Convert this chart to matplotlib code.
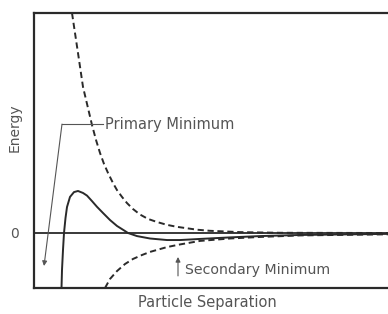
import matplotlib
matplotlib.use("Agg")
import matplotlib.pyplot as plt

# x: separation (arbitrary units), y: energy (arbitrary units)
rep_x = [3.8, 4.4, 4.9, 5.4, 5.8, 6.2, 6.6, 7.0, 7.4, 7.9, 8.3, 8.8, 9.3, 9.9, 10.6,
         11.4, 12.3, 13.3, 14.3, 16.3, 17.6, 20.6, 24.6, 35.4]
rep_y = [10.0, 8.18, 6.64, 5.68, 4.91, 4.23, 3.64, 3.14, 2.73, 2.27, 1.95, 1.64, 1.36,
         1.09, 0.84, 0.64, 0.5, 0.37, 0.28, 0.15, 0.1, 0.04, 0.01, 0.0]

att_x = [7.1, 7.6, 8.3, 9.1, 9.9, 10.8, 11.6, 13.3, 14.6, 16.6, 19.6, 22.6, 26.6, 35.4]
att_y = [-2.5, -2.09, -1.73, -1.41, -1.18, -1.0, -0.86, -0.64, -0.52, -0.36, -0.25,
         -0.18, -0.11, -0.06]

tot_x = [2.75, 2.8, 2.9, 3.0, 3.15, 3.3, 3.6, 4.0, 4.4, 4.9, 5.3, 5.8, 6.3, 6.9, 7.6,
         8.3, 9.1, 9.4, 10.3, 11.6, 13.3, 14.6, 16.6, 19.6, 22.6, 26.6, 35.4]
tot_y = [-2.5, -1.68, -0.77, 0.0, 0.68, 1.18, 1.64, 1.86, 1.91, 1.82, 1.70, 1.45, 1.19,
         0.91, 0.59, 0.32, 0.09, 0.0, -0.14, -0.25, -0.32, -0.32, -0.27, -0.2, -0.14,
         -0.09, -0.04]

xlim = (0, 35.4)
ylim = (-2.5, 10.0)

fig = plt.figure(figsize=(3.88, 3.14), dpi=100)
ax = fig.add_axes([34/388, 1-288/314, 1-34/388, (288-13)/314])
ax.set_xlim(*xlim)
ax.set_ylim(*ylim)

lc = "#2a2a2a"
tc = "#555555"
dash = (0, (3.2, 1.9))
ax.plot(rep_x, rep_y, color=lc, lw=1.4, ls=dash, dash_capstyle="butt")
ax.plot(att_x, att_y, color=lc, lw=1.4, ls=dash, dash_capstyle="butt")
ax.plot(tot_x, tot_y, color=lc, lw=1.4, solid_joinstyle="round")
ax.axhline(0, color=lc, lw=1.3)

for s in ["left", "bottom", "top"]:
    ax.spines[s].set_linewidth(1.6)
    ax.spines[s].set_color(lc)
ax.spines["right"].set_visible(False)

ax.set_xticks([])
ax.set_yticks([0])
ax.set_yticklabels(["0"], color=tc, fontsize=10)
ax.tick_params(axis="y", length=0, pad=11)

fig.text(15/388, 1-128/314, "Energy", color=tc, fontsize=10, rotation=90,
         ha="center", va="center")
fig.text(207/388, 1-302/314, "Particle Separation", color=tc, fontsize=10.5,
         ha="center", va="center")

# Primary minimum annotation
ac = "#555555"
ax.plot([2.8, 6.9], [4.95, 4.95], color=ac, lw=0.8)
ax.annotate("", xy=(1.0, -1.5), xytext=(2.8, 4.95),
            arrowprops=dict(arrowstyle="-|>", color=ac, lw=0.8,
                            mutation_scale=7, shrinkA=0, shrinkB=0))
ax.text(7.1, 4.95, "Primary Minimum", color=tc, fontsize=10.5, va="center", ha="left")

# Secondary minimum annotation
ax.annotate("", xy=(14.4, -1.09), xytext=(14.4, -1.95),
            arrowprops=dict(arrowstyle="-|>", color=ac, lw=0.8,
                            mutation_scale=7, shrinkA=0, shrinkB=0))
ax.text(15.1, -1.68, "Secondary Minimum", color=tc, fontsize=10.2, va="center", ha="left")

fig.savefig("out.png", dpi=100)
